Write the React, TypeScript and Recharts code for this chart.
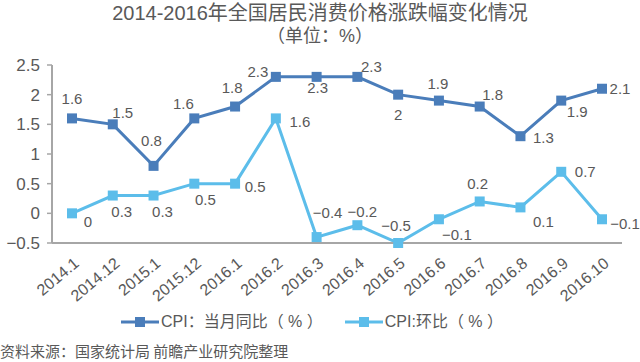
import React from 'react';
import { LineChart, Line, XAxis, YAxis, LabelList } from 'recharts';

const months = ['2014.1', '2014.12', '2015.1', '2015.12', '2016.1', '2016.2', '2016.3', '2016.4', '2016.5', '2016.6', '2016.7', '2016.8', '2016.9', '2016.10'];
const cpiYoy = [1.6, 1.5, 0.8, 1.6, 1.8, 2.3, 2.3, 2.3, 2, 1.9, 1.8, 1.3, 1.9, 2.1];
const cpiMom = [0, 0.3, 0.3, 0.5, 0.5, 1.6, -0.4, -0.2, -0.5, -0.1, 0.2, 0.1, 0.7, -0.1];
const yTicks = [-0.5, 0, 0.5, 1, 1.5, 2, 2.5];

const data = months.map((m, i) => ({ month: m, yoy: cpiYoy[i], mom: cpiMom[i] }));

const DARK = '#4A7DBA';
const LIGHT = '#5CBDEA';
const TEXT = '#595959';
const FONT = "'Liberation Sans', 'Noto Sans CJK SC', sans-serif";
const CJK = "'Noto Sans CJK SC', 'Liberation Sans', sans-serif";

// label placement relative to each point [dx, dy]
const yoyOffsets = [[0, -20], [10, -12], [-2, -25], [-11, -15], [-3, -19], [-18, -5], [1, 11], [14, -10], [0, 20], [-1, -17], [13, -12], [23, 1], [16, 11], [18, 0]];
const momOffsets = [[16, 8], [9, 16], [9, 16], [11, 16], [20, 3], [24, 3], [11, -25], [5, -14], [-2, -18], [18, 15], [-2, -18], [23, 14], [24, 0], [23, 4]];

const fmt = (v: number) => (v < 0 ? '\u2212' + Math.abs(v) : String(v));

const SquareDot = (color: string) => (props: any) => {
  const { cx, cy, index } = props;
  return <rect key={index} x={cx - 5} y={cy - 5} width={10} height={10} fill={color} />;
};

const makeLabel = (offsets: number[][]) => (props: any) => {
  const { x, y, value, index } = props;
  const [dx, dy] = offsets[index] || [0, -14];
  return (
    <text key={index} x={x + dx} y={y + dy} textAnchor="middle" dominantBaseline="central" fontSize={15} fill={TEXT} fontFamily={FONT}>
      {fmt(value)}
    </text>
  );
};

const XTick = (props: any) => {
  const { x, y, payload } = props;
  const ax = x + 8;
  const ay = y + 22;
  return (
    <text x={ax} y={ay} textAnchor="end" fontSize={16} fill={TEXT} fontFamily={FONT} transform={`rotate(-40, ${ax}, ${ay})`}>
      {payload.value}
    </text>
  );
};

const LegendIcon = ({ color }: { color: string }) => (
  <svg width={38} height={12} style={{ marginRight: 2 }}>
    <line x1={0} y1={6} x2={38} y2={6} stroke={color} strokeWidth={3} />
    <rect x={14} y={1} width={10} height={10} fill={color} />
  </svg>
);

export default function App() {
  return (
    <div style={{ position: 'absolute', left: 0, top: 0, width: 640, height: 362, background: '#fff', fontFamily: FONT, color: TEXT }}>
      <div style={{ position: 'absolute', top: 1, width: 640, textAlign: 'center', fontSize: 20, lineHeight: '24px' }}>
        2014-2016年全国居民消费价格涨跌幅变化情况
      </div>
      <div style={{ position: 'absolute', top: 25, width: 640, textAlign: 'center', fontSize: 18, lineHeight: '22px' }}>
        （单位：%）
      </div>
      <LineChart width={640} height={362} data={data} margin={{ top: 65, right: 18, bottom: 59, left: 0 }}>
        <XAxis
          dataKey="month"
          interval={0}
          padding={{ left: 20, right: 20 }}
          tickLine={false}
          tickSize={0}
          tickMargin={0}
          height={60}
          axisLine={{ stroke: '#A6A6A6', strokeWidth: 2 }}
          tick={<XTick />}
        />
        <YAxis
          width={52}
          domain={[-0.5, 2.5]}
          ticks={yTicks}
          interval={0}
          tickFormatter={fmt}
          tickSize={5}
          tickMargin={7}
          tickLine={{ stroke: '#A6A6A6', strokeWidth: 1.5 }}
          axisLine={{ stroke: '#A6A6A6', strokeWidth: 2 }}
          tick={{ fontSize: 17, fill: TEXT, fontFamily: FONT }}
        />
        <Line dataKey="yoy" stroke={DARK} strokeWidth={3} dot={SquareDot(DARK)} activeDot={false} isAnimationActive={false}>
          <LabelList dataKey="yoy" content={makeLabel(yoyOffsets)} />
        </Line>
        <Line dataKey="mom" stroke={LIGHT} strokeWidth={3} dot={SquareDot(LIGHT)} activeDot={false} isAnimationActive={false}>
          <LabelList dataKey="mom" content={makeLabel(momOffsets)} />
        </Line>
      </LineChart>
      <div style={{ position: 'absolute', top: 311, left: 121, display: 'flex', alignItems: 'center', fontSize: 16, lineHeight: '22px' }}>
        <LegendIcon color={DARK} />
        <span>CPI：当月同比（ % ）</span>
        <span style={{ width: 22 }} />
        <LegendIcon color={LIGHT} />
        <span>CPI:环比（ % ）</span>
      </div>
      <div style={{ position: 'absolute', top: 341, left: 0, fontSize: 15, lineHeight: '20px', fontFamily: CJK }}>
        资料来源：国家统计局 前瞻产业研究院整理
      </div>
    </div>
  );
}
